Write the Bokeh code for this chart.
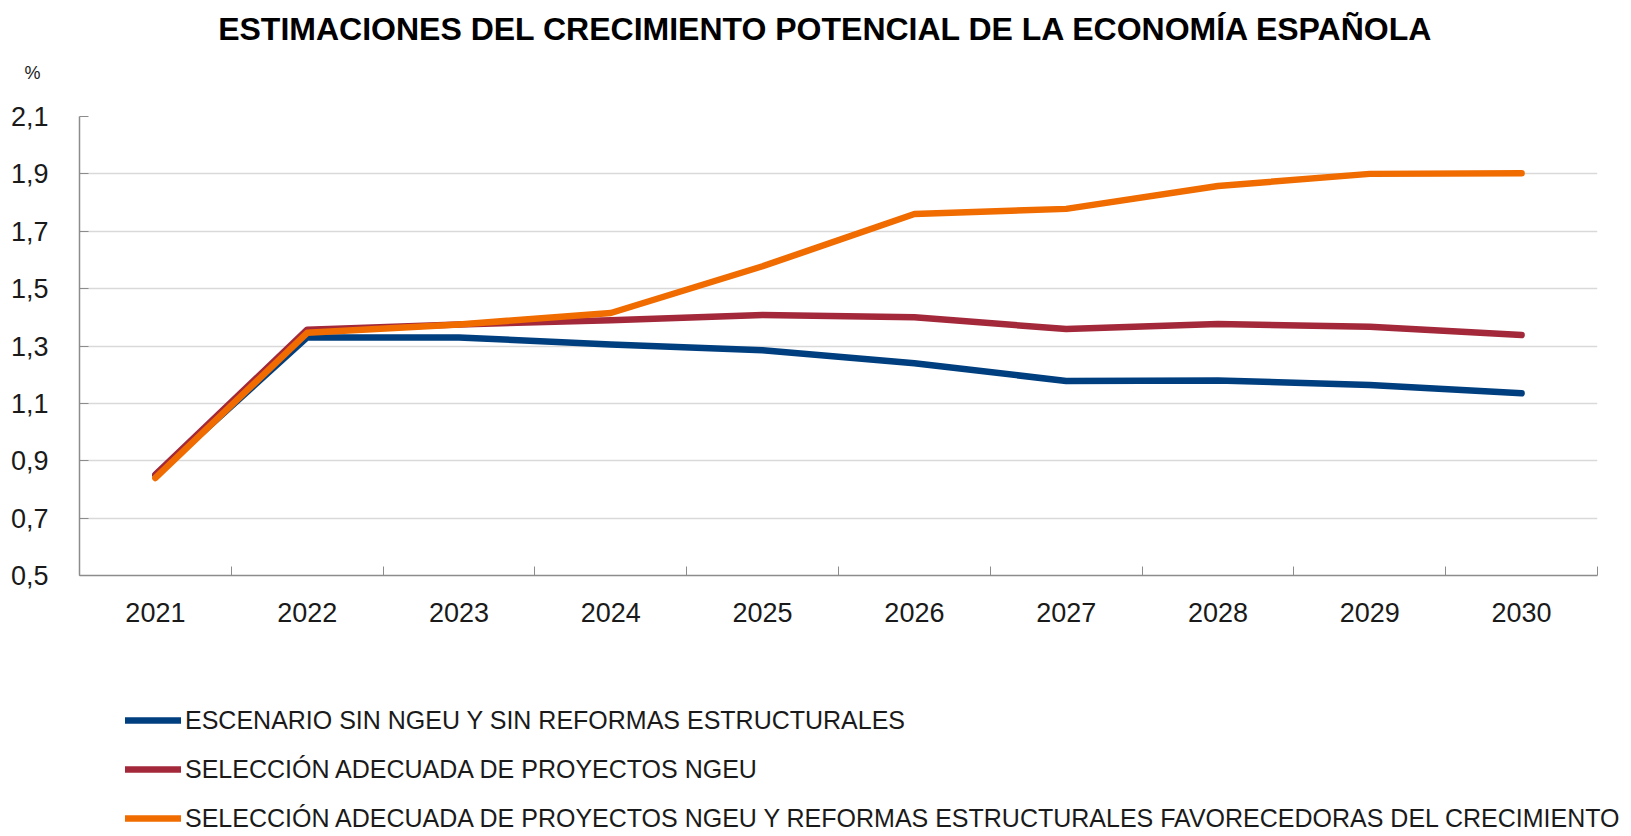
from bokeh.plotting import figure
from bokeh.models import (Range1d, FixedTicker, Legend, LegendItem, Label)
from bokeh.embed import file_html
from bokeh.resources import INLINE

# ---------------- data ----------------
years = [2021, 2022, 2023, 2024, 2025, 2026, 2027, 2028, 2029, 2030]
year_labels = ["2021", "2022", "2023", "2024", "2025", "2026", "2027", "2028", "2029", "2030"]
sin_ngeu = [0.85, 1.33, 1.33, 1.305, 1.285, 1.24, 1.178, 1.18, 1.164, 1.135]
ngeu = [0.852, 1.357, 1.375, 1.39, 1.408, 1.40, 1.359, 1.377, 1.367, 1.338]
ngeu_reformas = [0.84, 1.346, 1.375, 1.415, 1.578, 1.76, 1.778, 1.858, 1.90, 1.902]
y_ticks = [0.5, 0.7, 0.9, 1.1, 1.3, 1.5, 1.7, 1.9, 2.1]
y_tick_labels = ["0,5", "0,7", "0,9", "1,1", "1,3", "1,5", "1,7", "1,9", "2,1"]
series_names = [
    "ESCENARIO SIN NGEU Y SIN REFORMAS ESTRUCTURALES",
    "SELECCIÓN ADECUADA DE PROYECTOS NGEU",
    "SELECCIÓN ADECUADA DE PROYECTOS NGEU Y REFORMAS ESTRUCTURALES FAVORECEDORAS DEL CRECIMIENTO",
]
series_values = [sin_ngeu, ngeu, ngeu_reformas]
title_text = "ESTIMACIONES DEL CRECIMIENTO POTENCIAL DE LA ECONOMÍA ESPAÑOLA"
unit_text = "%"

colors = ["#003f7f", "#a3283a", "#f06c00"]
FONT = "Liberation Sans"
LW = 6.5

W, T, H1, H2 = 1628, 90, 548, 196


def strip(height):
    f = figure(width=W, height=height, output_backend="svg", toolbar_location=None,
               x_axis_type=None, y_axis_type=None,
               x_range=Range1d(0, W), y_range=Range1d(0, height), min_border=0)
    f.outline_line_color = None
    f.background_fill_color = "white"
    f.border_fill_color = "white"
    return f


# ---------------- title strip ----------------
tf = strip(T)
tf.add_layout(Label(x=826, y=T - 28, text=title_text, text_align="center",
                    text_baseline="middle", text_font=FONT,
                    text_font_size="32px", text_font_style="bold", text_color="#000000"))
tf.add_layout(Label(x=32, y=T - 72, text=unit_text, text_align="center",
                    text_baseline="middle", text_font=FONT,
                    text_font_size="18px", text_color="#1a1a1a"))

# ---------------- main chart ----------------
p = figure(width=W, height=H1, output_backend="svg", toolbar_location=None,
           title=None,
           x_range=Range1d(years[0] - 0.5, years[-1] + 0.5),
           y_range=Range1d(y_ticks[0], y_ticks[-1]),
           min_border_left=79, min_border_right=W - 1597, min_border_top=116 - T,
           min_border_bottom=H1 - (575 - T))
p.outline_line_color = None
p.background_fill_color = "white"
p.border_fill_color = "white"

for vals, c in zip(series_values, colors):
    p.line(years, vals, line_color=c, line_width=LW, line_join="round", line_cap="round")

xa = p.xaxis[0]
xa.ticker = FixedTicker(ticks=years, minor_ticks=[y - 0.5 for y in years] + [years[-1] + 0.5])
xa.major_label_overrides = {y: l for y, l in zip(years, year_labels)}
xa.major_tick_in = 0
xa.major_tick_out = 0
xa.minor_tick_in = 9
xa.minor_tick_out = 0
xa.minor_tick_line_color = "#8c8c8c"
xa.axis_line_color = "#8c8c8c"
xa.axis_line_width = 1.5
xa.major_label_standoff = 27
xa.major_label_text_font = FONT
xa.major_label_text_font_size = "27px"
xa.major_label_text_color = "#1a1a1a"

ya = p.yaxis[0]
ya.ticker = FixedTicker(ticks=y_ticks)
ya.major_label_overrides = {t: l for t, l in zip(y_ticks, y_tick_labels)}
ya.major_tick_in = 9
ya.major_tick_out = 0
ya.minor_tick_line_color = None
ya.major_tick_line_color = "#8c8c8c"
ya.axis_line_color = "#8c8c8c"
ya.axis_line_width = 1.5
ya.major_label_standoff = 31
ya.major_label_text_font = FONT
ya.major_label_text_font_size = "27px"
ya.major_label_text_color = "#1a1a1a"

p.xgrid.grid_line_color = None
p.ygrid.grid_line_color = "#d9d9d9"
p.ygrid.grid_line_width = 1.5
p.ygrid.ticker = FixedTicker(ticks=y_ticks)

# ---------------- legend strip ----------------
lf = strip(H2)
lf.x_range = Range1d(0, 1)
lf.y_range = Range1d(0, 1)
items = []
for n, vals, c in zip(series_names, series_values, colors):
    # same series, drawn outside this strip's visible range: only the legend key shows
    r = lf.line(years, vals, line_color=c, line_width=LW, line_cap="round")
    items.append(LegendItem(label=n, renderers=[r]))
legend = Legend(items=items, location=(125, 1), orientation="vertical",
                margin=0, padding=0, spacing=19,
                glyph_width=56, glyph_height=30, label_height=30, label_standoff=4,
                label_text_font=FONT, label_text_font_size="25px",
                label_text_color="#1a1a1a",
                border_line_color=None, background_fill_alpha=0)
lf.add_layout(legend)

open("out.html", "w").write(file_html([tf, p, lf], INLINE))
